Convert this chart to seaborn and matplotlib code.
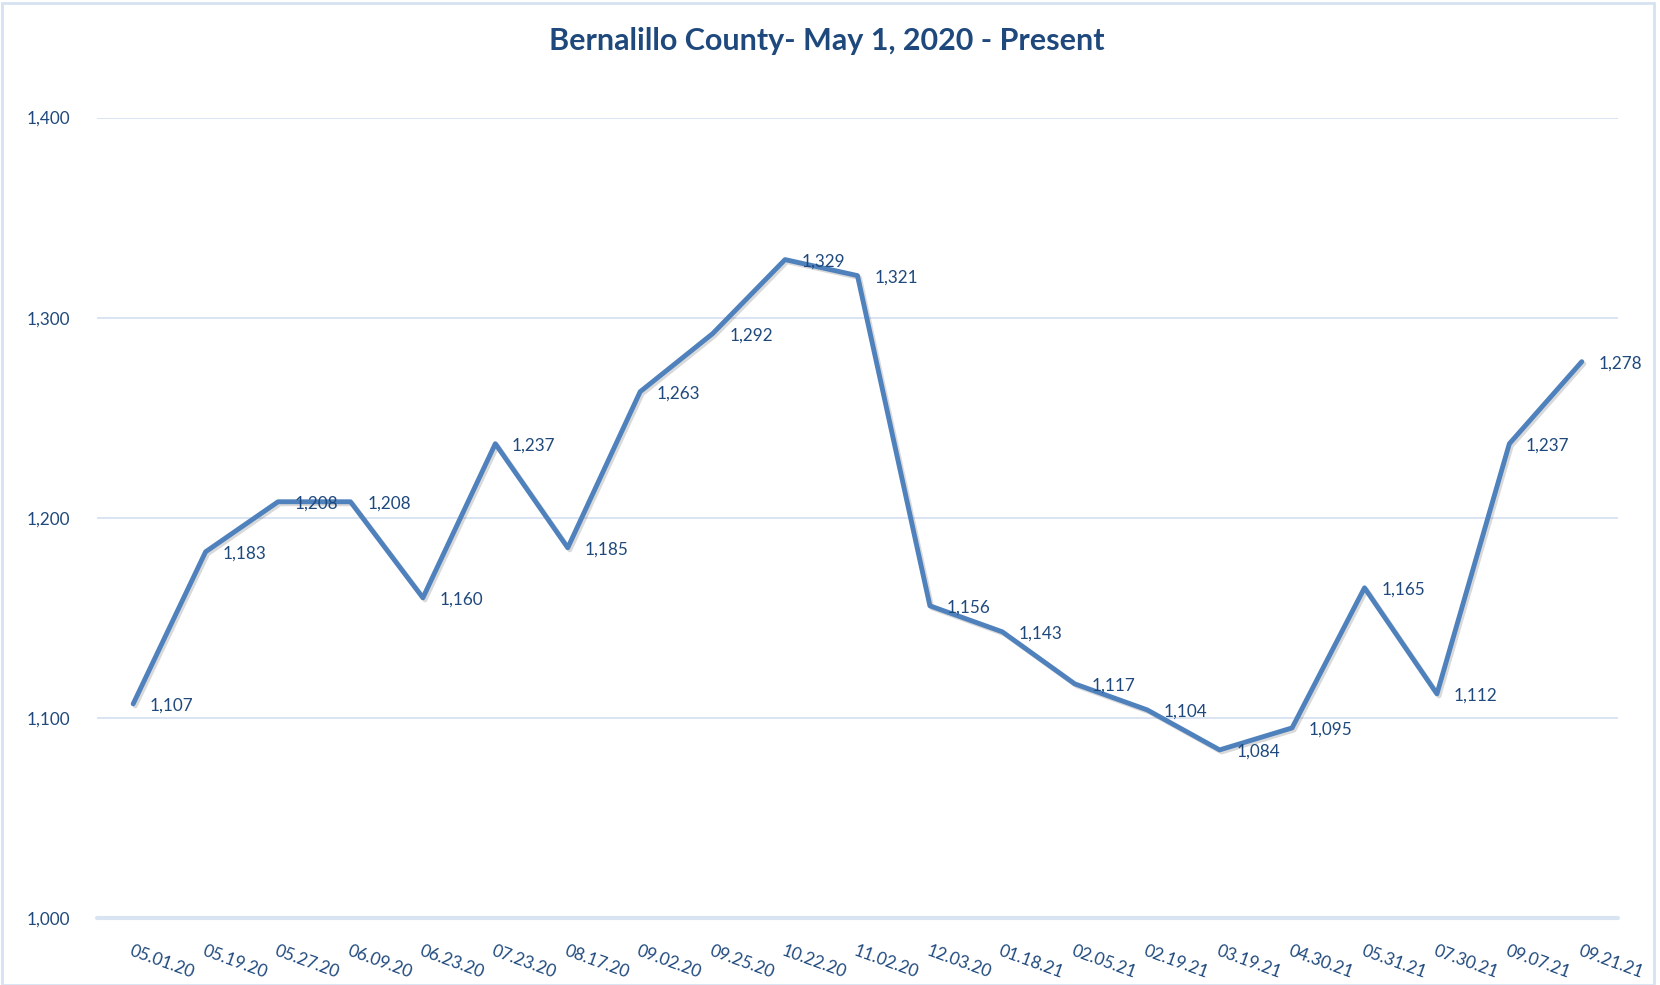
import matplotlib
matplotlib.use("Agg")
import matplotlib.pyplot as plt
import matplotlib.patheffects as pe
from matplotlib.patches import Rectangle
import seaborn as sns
import pandas as pd

dates = ["05.01.20", "05.19.20", "05.27.20", "06.09.20", "06.23.20", "07.23.20",
         "08.17.20", "09.02.20", "09.25.20", "10.22.20", "11.02.20", "12.03.20",
         "01.18.21", "02.05.21", "02.19.21", "03.19.21", "04.30.21", "05.31.21",
         "07.30.21", "09.07.21", "09.21.21"]
values = [1107, 1183, 1208, 1208, 1160, 1237, 1185, 1263, 1292, 1329, 1321, 1156,
          1143, 1117, 1104, 1084, 1095, 1165, 1112, 1237, 1278]
yticks = [1000, 1100, 1200, 1300, 1400]
title = "Bernalillo County- May 1, 2020 - Present"

text_color = "#1F497D"
line_color = "#4F81BD"
grid_color = "#D9E4F3"

sns.set_theme(style="white")
plt.rcParams["font.family"] = ["Lato", "DejaVu Sans"]

fig = plt.figure(figsize=(16.6, 9.85), dpi=100)
ax = fig.add_axes([0.0584, 0.068, 0.9163, 0.8127])

df = pd.DataFrame({"idx": list(range(len(dates))), "value": values})
sns.lineplot(data=df, x="idx", y="value", ax=ax, color=line_color, linewidth=3.5,
             path_effects=[pe.SimpleLineShadow(offset=(1.5, -1.5), alpha=0.15,
                                               shadow_color="black"), pe.Normal()],
             zorder=3)

ax.set_xlim(-0.5, len(dates) - 0.5)
ax.set_ylim(1000, 1400)
ax.set_yticks(yticks)
ax.set_yticklabels([f"{v:,}" for v in yticks], color=text_color, fontsize=12.3)
ax.set_xticks(range(len(dates)))
ax.set_xticklabels(dates, rotation=-20, ha="left", va="top", rotation_mode="anchor",
                   color=text_color, fontsize=12.3)
ax.tick_params(axis="x", length=0, pad=18)
ax.tick_params(axis="y", length=0, pad=19)
ax.set_xlabel("")
ax.set_ylabel("")

for y in yticks[1:]:
    ax.axhline(y, color=grid_color, linewidth=1.4, zorder=1)
ax.axhline(1000, color=grid_color, linewidth=3, zorder=2, clip_on=False)

for s in ax.spines.values():
    s.set_visible(False)

for i, v in enumerate(values):
    ax.annotate(f"{v:,}", (i, v), xytext=(12, -1.5), textcoords="offset points",
                ha="left", va="center", color=text_color, fontsize=12.3, zorder=4)

fig.text(0.498, 0.958, title, ha="center", va="center", fontsize=22,
         fontweight="bold", color=text_color)

fig.patches.append(Rectangle((0.0015, 0.0), 0.995, 0.997, transform=fig.transFigure,
                             fill=False, edgecolor="#D6E2F2", linewidth=2))

fig.savefig("out.png", dpi=100)
